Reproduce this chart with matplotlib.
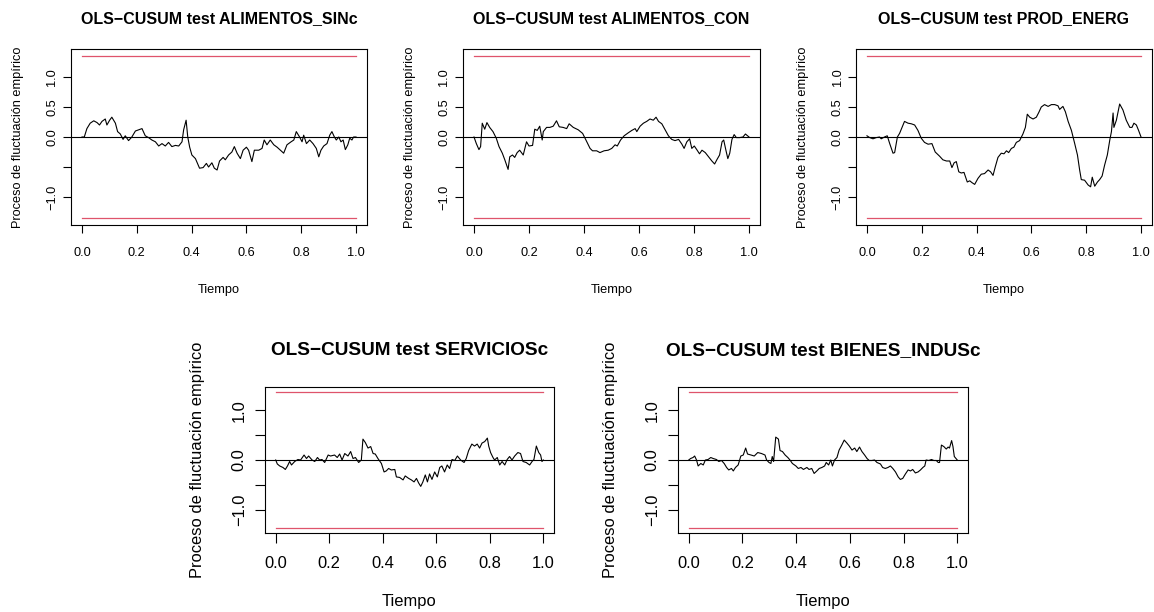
import matplotlib
matplotlib.use("Agg")
import matplotlib.pyplot as plt
import numpy as np

plt.rcParams["font.family"] = ["Liberation Sans", "DejaVu Sans"]

W, H = 1154, 612
BOUND = 1.358
RED = "#DF536B"

titles = [
    "OLS\u2212CUSUM test ALIMENTOS_SINc",
    "OLS\u2212CUSUM test ALIMENTOS_CON",
    "OLS\u2212CUSUM test PROD_ENERG",
    "OLS\u2212CUSUM test SERVICIOSc",
    "OLS\u2212CUSUM test BIENES_INDUSc",
]

t_sinc = [0, .0085, .018, .030, .043, .055, .064, .073, .085, .091, .101, .109, .122, .130, .140, .150,
          .158, .170, .182, .195, .207, .219, .231, .243, .255, .268, .280, .292, .304, .316, .328, .341,
          .353, .365, .371, .380, .386, .393, .401, .414, .429, .442, .454, .462, .474, .483, .493, .502,
          .515, .523, .535, .547, .556, .566, .578, .588, .600, .608, .620, .629, .645, .657, .665, .675,
          .687, .700, .712, .724, .736, .748, .763, .773, .782, .794, .803, .809, .819, .831, .843, .855,
          .864, .872, .882, .894, .904, .912, .921, .928, .937, .945, .953, .961, .970, .977, .985, .991, 1.0]
v_sinc = [0, 0, .14, .23, .27, .24, .20, .26, .30, .20, .28, .33, .23, .09, .05, -.04,
          .02, -.06, 0, .10, .12, .14, .02, -.01, -.05, -.08, -.15, -.11, -.15, -.09, -.16, -.14,
          -.15, -.08, .12, .28, 0, -.17, -.30, -.36, -.52, -.51, -.44, -.50, -.43, -.52, -.55, -.40,
          -.34, -.38, -.30, -.25, -.16, -.27, -.36, -.22, -.17, -.22, -.41, -.22, -.22, -.19, -.05, -.13,
          -.05, -.13, -.17, -.22, -.27, -.13, -.08, -.05, .09, 0, -.08, .03, -.11, -.05, -.11, -.19,
          -.33, -.22, -.15, -.11, .03, .09, 0, -.05, 0, -.08, -.05, -.21, -.13, -.02, -.05, 0, 0]

t_con = [0, .0085, .018, .024, .030, .039, .047, .057, .069, .081, .091, .103, .112, .124, .130, .140,
         .148, .157, .166, .179, .191, .200, .213, .221, .230, .239, .248, .252, .264, .276, .288, .300,
         .310, .324, .337, .346, .361, .379, .395, .407, .422, .431, .446, .458, .473, .488, .501, .513,
         .521, .533, .546, .561, .574, .586, .592, .604, .616, .628, .640, .652, .662, .671, .683, .695,
         .707, .719, .731, .744, .756, .764, .774, .784, .792, .801, .810, .820, .829, .841, .853, .865,
         .875, .883, .893, .902, .908, .916, .923, .930, .938, .946, .954, .966, .978, .987, 1.0]
v_con = [0, -.11, -.21, -.16, .23, .13, .24, .16, .09, -.02, -.16, -.27, -.38, -.54, -.33, -.30,
         -.34, -.26, -.22, -.30, -.08, -.15, -.14, .13, .11, .18, -.05, .09, .16, .16, .18, .27,
         .17, .16, .14, .22, .16, .12, .06, -.05, -.19, -.23, -.23, -.26, -.23, -.22, -.19, -.13,
         -.15, -.05, .02, .07, .11, .14, .09, .18, .23, .26, .30, .28, .33, .26, .22, .12,
         .02, -.04, -.06, -.04, -.12, -.19, -.08, -.03, -.19, -.15, -.21, -.28, -.22, -.26, -.33, -.40,
         -.45, -.38, -.30, -.08, -.05, -.22, -.36, -.27, -.04, .04, -.01, -.01, 0, .05, 0]

t_energ = [0, .010, .022, .034, .046, .052, .064, .074, .083, .095, .101, .111, .119, .128, .137, .150,
           .162, .174, .186, .198, .210, .223, .237, .249, .265, .277, .290, .302, .310, .318, .326, .335,
           .344, .354, .366, .375, .383, .393, .405, .417, .429, .442, .451, .460, .468, .478, .490, .500,
           .509, .517, .527, .536, .545, .557, .569, .578, .585, .594, .606, .618, .627, .636, .648, .661,
           .673, .685, .697, .703, .715, .724, .734, .746, .758, .768, .776, .782, .794, .807, .816, .822,
           .831, .841, .849, .858, .867, .877, .886, .892, .898, .901, .910, .922, .934, .946, .959, .967,
           .974, .983, .991, 1.0]
v_energ = [.02, -.01, -.03, -.01, 0, -.03, 0, .02, -.11, -.27, -.26, 0, .06, .16, .26, .23,
           .22, .20, .11, -.02, -.09, -.12, -.11, -.25, -.32, -.38, -.40, -.40, -.51, -.43, -.41, -.58,
           -.60, -.59, -.75, -.73, -.76, -.79, -.69, -.62, -.61, -.55, -.58, -.64, -.50, -.34, -.27, -.28,
           -.23, -.26, -.19, -.17, -.09, -.06, .05, .16, .38, .33, .30, .33, .41, .50, .54, .51,
           .54, .54, .52, .46, .51, .42, .26, .11, -.11, -.30, -.55, -.71, -.72, -.80, -.83, -.67,
           -.82, -.75, -.71, -.65, -.47, -.30, -.05, .09, .40, .16, .28, .55, .45, .28, .16, .16,
           .23, .20, .11, 0]

t_serv = [0, .006, .015, .027, .036, .044, .052, .059, .071, .083, .093, .106, .115, .123, .136, .146,
          .156, .164, .173, .183, .196, .205, .220, .230, .239, .248, .258, .270, .280, .289, .298, .310,
          .320, .326, .335, .345, .355, .364, .372, .382, .395, .405, .413, .422, .432, .445, .451, .463,
          .476, .484, .497, .507, .517, .526, .534, .542, .550, .559, .567, .575, .584, .594, .604, .613,
          .621, .631, .641, .650, .659, .669, .679, .691, .704, .712, .721, .733, .743, .753, .762, .771,
          .781, .791, .796, .803, .812, .818, .828, .837, .846, .856, .865, .874, .883, .893, .905, .915,
          .924, .936, .949, .958, .965, .974, .983, .990, .995, 1.0]
v_serv = [0, -.08, -.12, -.15, -.19, -.12, -.03, -.10, -.03, .01, 0, .10, .03, .08, 0, -.03,
          .05, 0, .01, -.05, .10, .08, .10, .05, .12, 0, .13, .08, .17, .03, .05, -.05,
          0, .42, .35, .24, .27, .13, .12, .03, -.07, -.24, -.22, -.17, -.20, -.19, -.34, -.35,
          -.40, -.32, -.37, -.40, -.44, -.37, -.46, -.53, -.44, -.30, -.44, -.28, -.39, -.24, -.34, -.15,
          -.12, -.24, -.10, -.17, .01, -.01, .08, 0, -.05, .03, .19, .32, .28, .32, .24, .34,
          .37, .44, .28, .15, .05, 0, .05, -.10, -.03, -.10, .01, .07, 0, .08, .15, .13,
          -.03, -.05, -.10, -.03, .01, .28, .15, .10, -.03, 0]

t_indus = [0, .007, .016, .022, .029, .035, .045, .054, .062, .072, .082, .091, .103, .112, .122, .132,
           .141, .149, .159, .166, .174, .184, .194, .203, .212, .219, .232, .244, .257, .271, .284, .290,
           .299, .306, .311, .316, .324, .334, .340, .349, .359, .369, .377, .386, .399, .408, .418, .427,
           .440, .448, .458, .467, .477, .486, .496, .506, .512, .521, .529, .535, .543, .552, .560, .570,
           .579, .589, .598, .608, .618, .626, .636, .645, .655, .664, .672, .682, .692, .701, .714, .722,
           .732, .742, .751, .760, .770, .780, .788, .797, .807, .817, .826, .834, .844, .854, .863, .872,
           .879, .884, .894, .904, .913, .922, .929, .934, .941, .950, .959, .966, .971, .979, .984, .989, 1.0]
v_indus = [0, .03, .05, .08, 0, -.12, -.07, -.10, 0, .01, .05, .03, .01, -.03, -.01, -.07,
           -.15, -.20, -.17, -.22, -.15, -.10, .08, .10, .24, .12, .10, .08, .15, .13, .10, 0,
           -.05, -.07, .07, -.03, .46, .42, .19, .17, .10, .05, 0, -.07, -.12, -.17, -.15, -.19,
           -.15, -.19, -.17, -.27, -.22, -.17, -.15, -.12, -.05, -.10, 0, -.12, 0, .05, .20, .30,
           .40, .34, .28, .20, .24, .17, .26, .17, .10, .03, -.01, -.01, 0, -.05, -.08, -.15,
           -.17, -.15, -.12, -.17, -.24, -.34, -.39, -.37, -.28, -.20, -.22, -.19, -.26, -.24, -.20, -.15,
           -.12, 0, -.01, .01, -.01, -.01, -.05, -.05, .30, .27, .22, .26, .24, .39, .27, .07, 0]

times = [t_sinc, t_con, t_energ, t_serv, t_indus]
values = [v_sinc, v_con, v_energ, v_serv, v_indus]

# panel boxes in pixels: left, top, right, bottom
boxes = [
    (71, 49, 367, 225),
    (463, 49, 760, 225),
    (856, 49, 1152, 225),
    (265, 387, 554, 533),
    (678, 387, 968, 533),
]

row_style = {
    "top": dict(fs=9.2, tfs=11.5, tick_len=6, xpad=10, ypad=3,
                title_base=23.5, xlab_base=293, ylab_off=50),
    "bottom": dict(fs=11.9, tfs=13.7, tick_len=7.2, xpad=9.6, ypad=6,
                   title_base=355, xlab_base=606, ylab_off=63),
}


def draw_panel(fig, box, title, t, v, st):
    l, tp, r, b = box
    ax = fig.add_axes([l / W, 1 - b / H, (r - l) / W, (b - tp) / H])
    ax.plot(t, v, color="black", lw=0.8)
    ax.plot([0, 1], [BOUND, BOUND], color=RED, lw=0.9)
    ax.plot([0, 1], [-BOUND, -BOUND], color=RED, lw=0.9)
    ax.axhline(0, color="black", lw=0.8)
    ax.set_xlim(-0.04, 1.04)
    ax.set_ylim(-BOUND * 1.08, BOUND * 1.08)
    xt = np.arange(0, 1.01, 0.2)
    ax.set_xticks(xt)
    ax.set_xticklabels([f"{x:.1f}" for x in xt])
    yt = [-1.0, -0.5, 0.0, 0.5, 1.0]
    ax.set_yticks(yt)
    if st is row_style["top"]:
        ylabels = ["\u22121.0", "", "0.0", "0.5", "1.0"]
    else:
        ylabels = ["\u22121.0", "", "0.0", "", "1.0"]
    ax.set_yticklabels(ylabels, rotation=90, va="center")
    ax.tick_params(labelsize=st["fs"], length=st["tick_len"], width=0.8)
    ax.tick_params(axis="x", pad=st["xpad"])
    ax.tick_params(axis="y", pad=st["ypad"])
    for s in ax.spines.values():
        s.set_linewidth(0.8)

    cx = (l + r) / 2 / W
    cy = 1 - (tp + b) / 2 / H
    fig.text(cx, 1 - st["title_base"] / H, title, fontsize=st["tfs"],
             fontweight="bold", ha="center", va="baseline")
    fig.text(cx, 1 - st["xlab_base"] / H, "Tiempo", fontsize=st["fs"],
             ha="center", va="baseline")
    fig.text((l - st["ylab_off"]) / W, cy, "Proceso de fluctuación empírico",
             fontsize=st["fs"], rotation=90, rotation_mode="anchor",
             ha="center", va="baseline")
    return ax


fig = plt.figure(figsize=(W / 100, H / 100), dpi=100)
for i in range(5):
    st = row_style["top"] if i < 3 else row_style["bottom"]
    draw_panel(fig, boxes[i], titles[i], times[i], values[i], st)

fig.savefig("out.png", dpi=100)
